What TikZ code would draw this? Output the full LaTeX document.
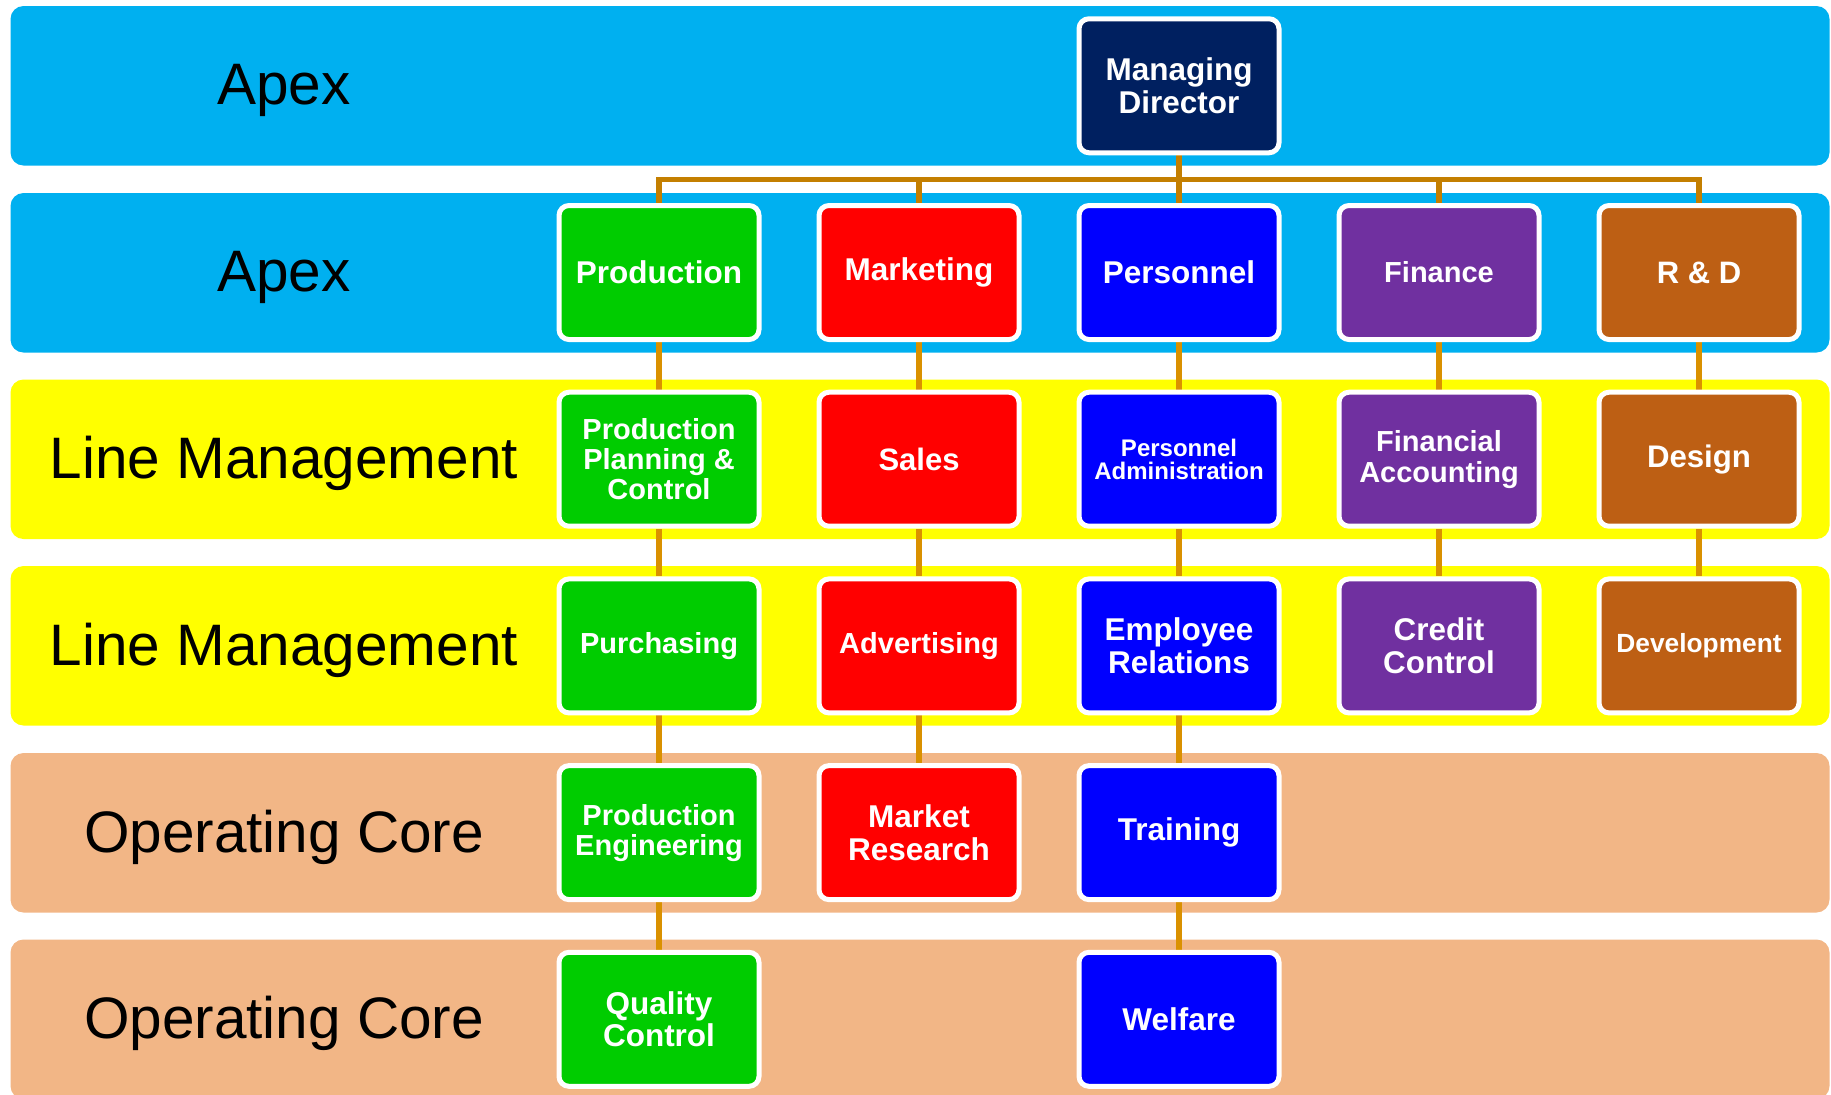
\documentclass[tikz,border=0pt]{standalone}
\usepackage{fontspec}
\setmainfont{Liberation Sans}

\definecolor{bandblue}{HTML}{00B0F0}
\definecolor{bandyellow}{HTML}{FFFF00}
\definecolor{bandtan}{HTML}{F2B686}
\definecolor{navy}{HTML}{002060}
\definecolor{dgreen}{HTML}{00CC00}
\definecolor{dred}{HTML}{FF0000}
\definecolor{dblue}{HTML}{0000FF}
\definecolor{dpurple}{HTML}{7030A0}
\definecolor{dbrown}{HTML}{BD5F14}
\definecolor{connA}{HTML}{C47F00}
\definecolor{connB}{HTML}{DA9100}

\pgfdeclarelayer{bandlayer}
\pgfdeclarelayer{linelayer}
\pgfsetlayers{bandlayer,linelayer,main}

\begin{document}
\begin{tikzpicture}[x=0.5pt,y=-0.5pt,
  band/.style={rounded corners=6.5pt},
  lbl/.style={anchor=base,inner sep=0pt,text=black,font=\fontsize{29.25}{32}\selectfont},
  orgbox/.style={rounded corners=5pt,draw=white,line width=2.5pt,
    minimum width=100pt,minimum height=67pt,inner sep=0pt,align=center,
    text=white,font=\fontsize{15.75}{16.35}\selectfont\bfseries},
  fs/.style 2 args={font=\fontsize{#1}{#2}\selectfont\bfseries},
  conna/.style={draw=connA,line width=2.7pt,line join=miter},
  connb/.style={draw=connB,line width=3pt},
]
\useasboundingbox (0,0) rectangle (1831,1094);

% horizontal bands and their level names
\begin{pgfonlayer}{bandlayer}
  \fill[bandblue,band]   (10.5,6)     rectangle (1829.5,165.5);
  \fill[bandblue,band]   (10.5,193)   rectangle (1829.5,352.5);
  \fill[bandyellow,band] (10.5,379.5) rectangle (1829.5,539);
  \fill[bandyellow,band] (10.5,566)   rectangle (1829.5,725.5);
  \fill[bandtan,band]    (10.5,753)   rectangle (1829.5,912.5);
  \fill[bandtan,band]    (10.5,939.5) rectangle (1829.5,1099);
  \node[lbl] (l1) at (284,104.5)  {Apex};
  \node[lbl] (l2) at (284,291.5)  {Apex};
  \node[lbl] (l3) at (284,478.5)  {Line Management};
  \node[lbl] (l4) at (284,665)    {Line Management};
  \node[lbl] (l5) at (284,852)    {Operating Core};
  \node[lbl] (l6) at (284,1038.5) {Operating Core};
\end{pgfonlayer}

% managing director
\node[orgbox,fill=navy] (md) at (1179,85.75) {Managing\\Director};

% departments
\node[orgbox,fill=dgreen]  (prod) at (659,272.5)  {Production};
\node[orgbox,fill=dred]    (mkt)  at (919,272.5)  {Marketing};
\node[orgbox,fill=dblue]   (pers) at (1179,272.5) {Personnel};
\node[orgbox,fill=dpurple,fs={14.5}{15}] (fin) at (1439,272.5) {Finance};
\node[orgbox,fill=dbrown,fs={15.5}{16}]  (rd)  at (1699,272.5) {R \& D};

% line management, first level
\node[orgbox,fill=dgreen,fs={14.5}{15}]  (ppc)   at (659,459.2)  {Production\\Planning \&\\Control};
\node[orgbox,fill=dred,fs={15.5}{16}]    (sales) at (919,459.2)  {Sales};
\node[orgbox,fill=dblue,fs={12}{11.6}]   (padm)  at (1179,459.2) {Personnel\\Administration};
\node[orgbox,fill=dpurple,fs={14.5}{15.6}] (facc) at (1439,459.2) {Financial\\Accounting};
\node[orgbox,fill=dbrown,fs={15.6}{16}]  (des)   at (1699,459.2) {Design};

% line management, second level
\node[orgbox,fill=dgreen,fs={14.5}{15}]  (purch) at (659,645.9)  {Purchasing};
\node[orgbox,fill=dred,fs={14.5}{15}]    (adv)   at (919,645.9)  {Advertising};
\node[orgbox,fill=dblue]                 (emp)   at (1179,645.9) {Employee\\Relations};
\node[orgbox,fill=dpurple,fs={15.7}{16.5}] (cred) at (1439,645.9) {Credit\\Control};
\node[orgbox,fill=dbrown,fs={13.15}{14}] (dev)   at (1699,645.9) {Development};

% operating core
\node[orgbox,fill=dgreen,fs={14.5}{15}] (peng)  at (659,832.6)  {Production\\Engineering};
\node[orgbox,fill=dred]                 (mres)  at (919,832.6)  {Market\\Research};
\node[orgbox,fill=dblue]                (train) at (1179,832.6) {Training};
\node[orgbox,fill=dgreen]               (qc)    at (659,1019.3) {Quality\\Control};
\node[orgbox,fill=dblue]                (welf)  at (1179,1019.3) {Welfare};

% connectors
\coordinate (bar) at (1179,179.5);
\begin{pgfonlayer}{linelayer}
  \draw[conna] (md) -- (bar);
  \draw[conna] (prod) -- (prod |- bar) -- (rd |- bar) -- (rd);
  \draw[conna] (mkt) -- (mkt |- bar);
  \draw[conna] (pers) -- (bar);
  \draw[conna] (fin) -- (fin |- bar);

  \draw[connb] (prod) -- (ppc);
  \draw[connb] (ppc) -- (purch);
  \draw[connb] (purch) -- (peng);
  \draw[connb] (peng) -- (qc);
  \draw[connb] (mkt) -- (sales);
  \draw[connb] (sales) -- (adv);
  \draw[connb] (adv) -- (mres);
  \draw[connb] (pers) -- (padm);
  \draw[connb] (padm) -- (emp);
  \draw[connb] (emp) -- (train);
  \draw[connb] (train) -- (welf);
  \draw[connb] (fin) -- (facc);
  \draw[connb] (facc) -- (cred);
  \draw[connb] (rd) -- (des);
  \draw[connb] (des) -- (dev);
\end{pgfonlayer}
\end{tikzpicture}
\end{document}
